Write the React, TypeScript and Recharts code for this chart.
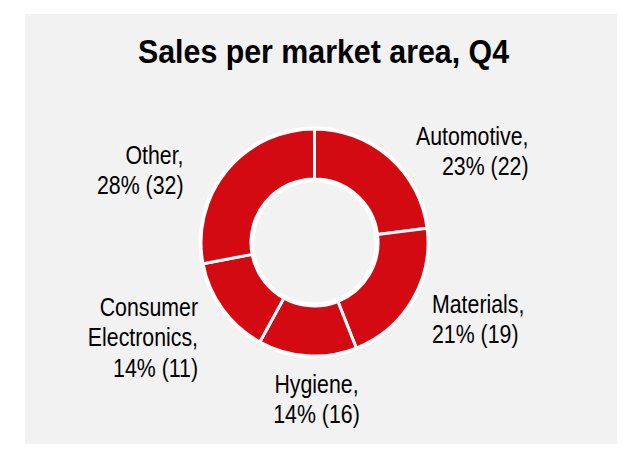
import React from "react";
import { PieChart, Pie, Cell } from "recharts";

const categories = ["Automotive", "Materials", "Hygiene", "Consumer Electronics", "Other"];
const shares = [23, 21, 14, 14, 28];
const counts = [22, 19, 16, 11, 32];

const RED = "#d40a12";
const PANEL = "#f2f2f2";
const FONT = "'Liberation Sans', Arial, sans-serif";
const NARROW = 0.82; // no Arial Narrow installed, squeeze instead

const CX = 309.5; // chart margin of 5 is added by recharts
const CY = 237.5;
const LINE = 30.5;

type Anchor = "start" | "middle" | "end";

// label placement relative to pie centre: anchor, dx, dy of first baseline
const labelLayout: { anchor: Anchor; dx: number; dy: number }[] = [
  { anchor: "end", dx: 214, dy: -97.5 },
  { anchor: "start", dx: 117.5, dy: 70.5 },
  { anchor: "middle", dx: 2, dy: 150.5 },
  { anchor: "end", dx: -116.5, dy: 73.5 },
  { anchor: "end", dx: -131, dy: -78.5 },
];

const data = categories.map((name, i) => ({ name, value: shares[i], count: counts[i] }));

const labelLines = (name: string, share: number, count: number) => {
  const words = name.split(" ");
  const head = words.length > 1 ? [words[0], `${words.slice(1).join(" ")},`] : [`${name},`];
  return [...head, `${share}% (${count})`];
};

const renderLabel = (props: any) => {
  const { cx, cy, index } = props;
  const d = data[index];
  const lay = labelLayout[index];
  const lines = labelLines(d.name, d.value, d.count);
  return (
    <g key={`lbl-${index}`} transform={`translate(${cx + lay.dx},${cy + lay.dy}) scale(${NARROW},1)`}>
      <text x={0} y={0} textAnchor={lay.anchor} fontFamily={FONT} fontSize={26} fill="#000">
        {lines.map((t, k) => (
          <tspan key={k} x={0} dy={k === 0 ? 0 : LINE}>
            {t}
          </tspan>
        ))}
      </text>
    </g>
  );
};

export default function App() {
  return (
    <div style={{ position: "relative", margin: -8, width: 626, height: 452, background: "#fff", overflow: "hidden" }}>
      <div style={{ position: "absolute", left: 0, top: 11, width: 5, height: 441, background: PANEL }} />
      <div style={{ position: "absolute", left: 25, top: 14, width: 592, height: 438, background: PANEL }} />
      <div style={{ position: "absolute", left: 0, top: 0 }}>
        <PieChart width={626} height={452}>
          <g transform="translate(323.5,63) scale(0.92,1)">
            <text x={0} y={0} textAnchor="middle" fontFamily={FONT} fontWeight="bold" fontSize={33} fill="#000">
              Sales per market area, Q4
            </text>
          </g>
          <Pie
            data={[{ name: "ring", value: 1 }]}
            dataKey="value"
            cx={CX}
            cy={CY}
            innerRadius={60}
            outerRadius={116}
            startAngle={90}
            endAngle={-270}
            fill="#fff"
            stroke="none"
            isAnimationActive={false}
          />
          <Pie
            data={data}
            dataKey="value"
            nameKey="name"
            cx={CX}
            cy={CY}
            innerRadius={63.5}
            outerRadius={113.5}
            startAngle={90}
            endAngle={-270}
            stroke="#fff"
            strokeWidth={3}
            label={renderLabel}
            labelLine={false}
            isAnimationActive={false}
          >
            {data.map((d) => (
              <Cell key={d.name} fill={RED} />
            ))}
          </Pie>
        </PieChart>
      </div>
    </div>
  );
}
